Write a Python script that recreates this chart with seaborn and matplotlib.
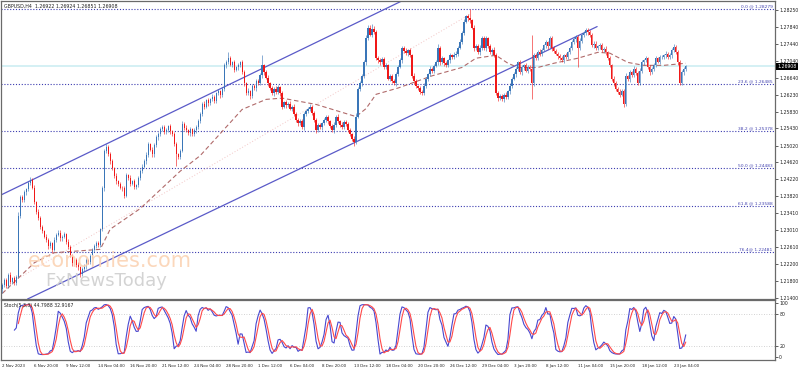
import numpy as np
import pandas as pd
import matplotlib
matplotlib.use("Agg")
import matplotlib.pyplot as plt
import matplotlib.transforms as mtransforms
import seaborn as sns

# ---------------- data ----------------
symbol_title = "GBPUSD,H4  1.26922 1.26924 1.26851 1.26908"
stoch_title = "Stoch(5,3,3) 44.7988 32.9167"

first_open = 1.2160
closes = [
    1.2170, 1.2182, 1.2168, 1.2195, 1.2178, 1.2186, 1.2174, 1.2190, 1.2335, 1.2380,
    1.2372, 1.2391, 1.2398, 1.2412, 1.2420, 1.2402, 1.2368, 1.2345, 1.2330, 1.2309,
    1.2298, 1.2285, 1.2278, 1.2262, 1.2270, 1.2253, 1.2278, 1.2290, 1.2295, 1.2281,
    1.2285, 1.2292, 1.2273, 1.2261, 1.2240, 1.2222, 1.2230, 1.2218, 1.2212, 1.2196,
    1.2208, 1.2215, 1.2229, 1.2224, 1.2240, 1.2254, 1.2262, 1.2271, 1.2266, 1.2303,
    1.2400, 1.2490, 1.2498, 1.2482, 1.2465, 1.2449, 1.2430, 1.2417, 1.2410, 1.2402,
    1.2400, 1.2383, 1.2432, 1.2425, 1.2411, 1.2417, 1.2404, 1.2407, 1.2425, 1.2441,
    1.2452, 1.2465, 1.2480, 1.2505, 1.2492, 1.2481, 1.2503, 1.2522, 1.2530, 1.2541,
    1.2546, 1.2535, 1.2539, 1.2548, 1.2536, 1.2529, 1.2505, 1.2481, 1.2476, 1.2490,
    1.2554, 1.2545, 1.2539, 1.2532, 1.2541, 1.2529, 1.2538, 1.2546, 1.2560, 1.2578,
    1.2602, 1.2595, 1.2610, 1.2603, 1.2612, 1.2618, 1.2609, 1.2627, 1.2631, 1.2622,
    1.2637, 1.2693, 1.2702, 1.2710, 1.2695, 1.2700, 1.2683, 1.2688, 1.2694, 1.2700,
    1.2676, 1.2650, 1.2627, 1.2632, 1.2620, 1.2644, 1.2638, 1.2655, 1.2651, 1.2670,
    1.2693, 1.2676, 1.2664, 1.2651, 1.2640, 1.2627, 1.2637, 1.2630, 1.2641, 1.2627,
    1.2595, 1.2605, 1.2598, 1.2602, 1.2590, 1.2595, 1.2578, 1.2563, 1.2555, 1.2560,
    1.2546, 1.2578, 1.2584, 1.2590, 1.2595, 1.2580, 1.2563, 1.2539, 1.2550, 1.2546,
    1.2555, 1.2562, 1.2571, 1.2560, 1.2548, 1.2539, 1.2552, 1.2571, 1.2560, 1.2552,
    1.2546, 1.2558, 1.2554, 1.2540, 1.2529, 1.2518, 1.2510, 1.2571, 1.2637, 1.2650,
    1.2668, 1.2700, 1.2758, 1.2783, 1.2766, 1.2780, 1.2773, 1.2710, 1.2705, 1.2700,
    1.2708, 1.2690, 1.2693, 1.2661, 1.2668, 1.2655, 1.2651, 1.2672, 1.2690, 1.2705,
    1.2734, 1.2728, 1.2722, 1.2730, 1.2717, 1.2668, 1.2655, 1.2644, 1.2638, 1.2630,
    1.2627, 1.2645, 1.2661, 1.2672, 1.2685, 1.2680, 1.2692, 1.2700, 1.2734, 1.2700,
    1.2710, 1.2698, 1.2693, 1.2705, 1.2717, 1.2712, 1.2718, 1.2721, 1.2735, 1.2749,
    1.2770, 1.2797, 1.2810, 1.2805, 1.2800, 1.2783, 1.2734, 1.2740, 1.2724, 1.2735,
    1.2758, 1.2734, 1.2758, 1.2740, 1.2724, 1.2730, 1.2717, 1.2627, 1.2615, 1.2620,
    1.2612, 1.2623, 1.2618, 1.2632, 1.2645, 1.2661, 1.2672, 1.2685, 1.2700, 1.2676,
    1.2688, 1.2693, 1.2680, 1.2690, 1.2685, 1.2651, 1.2717, 1.2710, 1.2725, 1.2721,
    1.2730, 1.2741, 1.2748, 1.2738, 1.2758, 1.2734, 1.2728, 1.2721, 1.2715, 1.2710,
    1.2705, 1.2717, 1.2712, 1.2725, 1.2734, 1.2749, 1.2755, 1.2761, 1.2734, 1.2752,
    1.2766, 1.2770, 1.2778, 1.2772, 1.2766, 1.2741, 1.2745, 1.2734, 1.2738, 1.2741,
    1.2729, 1.2733, 1.2724, 1.2710, 1.2693, 1.2661, 1.2650, 1.2637, 1.2630, 1.2623,
    1.2632, 1.2602, 1.2668, 1.2660, 1.2676, 1.2670, 1.2685, 1.2675, 1.2651, 1.2680,
    1.2700, 1.2705, 1.2710, 1.2690, 1.2676, 1.2685, 1.2693, 1.2710, 1.2702, 1.2712,
    1.2712, 1.2717, 1.2721, 1.2712, 1.2717, 1.2730, 1.2737, 1.2725, 1.2700, 1.2651,
    1.2676, 1.2685, 1.26908,
]

wick_up_pips = [
    6, 4, 5, 3, 6, 4, 5, 3, 8, 5,
    4, 6, 3, 5, 8, 4, 5, 3, 6, 4,
    5, 3, 6, 4, 5, 3, 7, 4, 5, 6,
    4, 5, 3, 6, 4, 5, 3, 4, 6, 3,
    5, 4, 6, 3, 5, 4, 6, 4, 5, 4,
    6, 5, 7, 6, 4, 5, 3, 6, 4, 5,
    4, 6, 5, 3, 6, 4, 5, 3, 4, 6,
    5, 4, 6, 5, 3, 6, 4, 5, 4, 6,
    5, 4, 6, 3, 5, 4, 6, 5, 3, 5,
    6, 4, 5, 3, 6, 4, 5, 4, 6, 5,
    4, 6, 3, 5, 4, 6, 5, 3, 6, 4,
    5, 6, 4, 15, 5, 4, 6, 3, 5, 4,
    6, 5, 4, 6, 3, 5, 4, 6, 5, 4,
    24, 4, 5, 6, 3, 5, 4, 6, 5, 4,
    5, 4, 6, 3, 5, 4, 6, 5, 4, 5,
    6, 4, 5, 3, 6, 4, 5, 4, 6, 5,
    4, 6, 3, 5, 4, 6, 5, 3, 6, 4,
    5, 4, 6, 3, 5, 4, 6, 8, 5, 6,
    4, 6, 8, 7, 5, 12, 6, 4, 5, 6,
    4, 5, 6, 3, 5, 4, 6, 5, 4, 6,
    5, 4, 6, 3, 5, 4, 6, 5, 3, 5,
    4, 6, 5, 3, 6, 4, 5, 6, 10, 4,
    5, 4, 6, 3, 5, 4, 6, 5, 4, 6,
    5, 6, 4, 5, 23, 4, 6, 5, 4, 6,
    5, 4, 6, 3, 5, 4, 6, 5, 4, 6,
    5, 4, 6, 3, 5, 4, 6, 5, 4, 6,
    5, 4, 6, 3, 5, 81, 6, 5, 4, 6,
    5, 4, 6, 3, 5, 4, 6, 5, 4, 6,
    5, 4, 6, 3, 5, 4, 6, 5, 4, 6,
    5, 4, 4, 3, 5, 4, 6, 5, 4, 6,
    5, 4, 6, 3, 5, 4, 6, 5, 4, 6,
    5, 4, 6, 3, 5, 4, 6, 5, 4, 6,
    5, 4, 6, 3, 5, 4, 6, 5, 4, 6,
    5, 4, 6, 3, 5, 4, 7, 5, 4, 6,
    5, 4, 3,
]

wick_dn_pips = [
    10, 5, 6, 4, 5, 6, 4, 5, 4, 6,
    5, 4, 6, 3, 5, 4, 6, 5, 4, 6,
    5, 4, 6, 5, 4, 6, 3, 5, 4, 6,
    5, 4, 6, 5, 4, 6, 5, 4, 6, 8,
    5, 4, 6, 5, 4, 6, 5, 4, 6, 5,
    4, 6, 5, 4, 6, 5, 4, 6, 5, 4,
    6, 5, 4, 6, 5, 4, 6, 5, 4, 6,
    5, 4, 6, 5, 4, 6, 5, 4, 6, 5,
    4, 6, 5, 4, 6, 5, 4, 27, 6, 5,
    4, 6, 5, 4, 6, 5, 4, 6, 5, 4,
    6, 5, 4, 6, 5, 4, 6, 5, 4, 6,
    5, 4, 6, 5, 4, 6, 5, 4, 6, 5,
    4, 6, 5, 4, 6, 5, 4, 6, 5, 4,
    6, 5, 4, 6, 5, 4, 6, 5, 4, 6,
    5, 4, 6, 5, 4, 6, 5, 4, 6, 5,
    4, 6, 5, 4, 6, 5, 4, 6, 5, 4,
    6, 5, 4, 6, 5, 4, 6, 5, 4, 6,
    5, 4, 6, 5, 4, 6, 10, 5, 4, 6,
    5, 4, 6, 5, 4, 6, 5, 4, 6, 5,
    4, 6, 5, 4, 6, 5, 4, 6, 5, 4,
    6, 5, 4, 6, 5, 4, 6, 5, 4, 6,
    5, 4, 6, 5, 4, 6, 5, 4, 6, 5,
    4, 6, 5, 4, 6, 5, 4, 6, 5, 4,
    6, 5, 4, 6, 5, 4, 6, 5, 4, 6,
    5, 4, 6, 5, 4, 6, 5, 4, 6, 5,
    4, 6, 5, 4, 6, 5, 4, 6, 5, 4,
    6, 5, 4, 6, 5, 39, 6, 5, 4, 6,
    5, 4, 6, 5, 4, 6, 5, 4, 6, 5,
    4, 6, 5, 4, 6, 5, 4, 6, 46, 4,
    6, 5, 4, 6, 5, 4, 6, 5, 4, 6,
    5, 4, 6, 5, 4, 6, 5, 4, 6, 5,
    4, 7, 5, 4, 6, 5, 4, 6, 5, 4,
    6, 5, 4, 6, 5, 4, 6, 5, 4, 6,
    5, 4, 6, 5, 4, 6, 5, 4, 6, 5,
    4, 6, 5,
]

x_tick_bars = [0, 16, 32, 48, 64, 80, 96, 112, 128, 144, 160,
               176, 192, 208, 224, 240, 256, 272, 288, 304, 320, 336]
x_tick_labels = ["2 Nov 2023", "6 Nov 20:00", "9 Nov 12:00", "14 Nov 04:00",
                 "16 Nov 20:00", "21 Nov 12:00", "24 Nov 04:00", "28 Nov 20:00",
                 "1 Dec 12:00", "6 Dec 04:00", "8 Dec 20:00", "13 Dec 12:00",
                 "18 Dec 04:00", "20 Dec 20:00", "26 Dec 12:00", "29 Dec 04:00",
                 "3 Jan 20:00", "8 Jan 12:00", "11 Jan 04:00", "15 Jan 20:00",
                 "18 Jan 12:00", "23 Jan 04:00"]
price_ticks = [1.28250, 1.27840, 1.27440, 1.27040, 1.26640, 1.26230, 1.25830,
               1.25430, 1.25020, 1.24620, 1.24220, 1.23820, 1.23410, 1.23010,
               1.22610, 1.22200, 1.21800, 1.21400]
stoch_ticks = [100, 80, 20, 0]

fib_levels = [1.28279, 1.26485, 1.25378, 1.24483, 1.23588, 1.22481]
fib_labels = ["0.0 @ 1.28279", "23.6 @ 1.26485", "38.2 @ 1.25378",
              "50.0 @ 1.24483", "61.8 @ 1.23588", "76.4@ 1.22481"]
last_price = 1.26908

ma_bars = [0, 16, 26, 49, 54, 69, 89, 99, 112, 120, 132, 140, 157, 177, 182,
           187, 198, 215, 230, 237, 247, 253, 258, 268, 276, 288, 298, 304,
           313, 321, 331, 342]
ma_values = [1.2150, 1.2223, 1.2247, 1.2255, 1.2303, 1.2352, 1.2441, 1.2478,
             1.2546, 1.2588, 1.2612, 1.2615, 1.2600, 1.2571, 1.2590, 1.2624,
             1.2639, 1.2668, 1.2688, 1.2710, 1.2717, 1.2698, 1.2688, 1.2688,
             1.2698, 1.2710, 1.2724, 1.2722, 1.2700, 1.2693, 1.2693, 1.2698]

channel_upper_bars = [-0.85, 205.15]
channel_upper_prices = [1.2384, 1.28584]
channel_lower_bars = [12.65, 297.65]
channel_lower_prices = [1.21368, 1.27853]
diag_bars = [9.15, 234.15]
diag_prices = [1.2189, 1.2815]

# ---------------- derived OHLC ----------------
n = len(closes)
idx = np.arange(n)
c = np.array(closes)
o = np.concatenate([[first_open], c[:-1]])
h = np.maximum(o, c) + np.array(wick_up_pips) * 0.0001
l = np.minimum(o, c) - np.array(wick_dn_pips) * 0.0001
df = pd.DataFrame({"bar": idx, "open": o, "high": h, "low": l, "close": c})

# Stochastic (5,3,3) computed from the bars
ll = df["low"].rolling(5).min()
hh = df["high"].rolling(5).max()
num = (df["close"] - ll).rolling(3).sum()
den = (hh - ll).rolling(3).sum()
df["k"] = 100 * num / den
df["d"] = df["k"].rolling(3).mean()

# ---------------- figure ----------------
sns.set_theme(style="white")
plt.rcParams["font.family"] = ["DejaVu Sans"]

W, H = 798, 371
fig = plt.figure(figsize=(W / 100, H / 100), dpi=100)
plot_right = 775 / W
ax = fig.add_axes([0.6 / W, 1 - 299 / H, plot_right - 0.6 / W, 298 / H])
ax2 = fig.add_axes([0.6 / W, 1 - 360 / H, plot_right - 0.6 / W, 60 / H], sharex=ax)

xmin, xmax = -0.85, 386.65
ax.set_xlim(xmin, xmax)
ax.set_ylim(1.21368, 1.28462)

up_col = "#3a76b8"
dn_col = "#f01818"
cols = np.where(c >= o, up_col, dn_col)

# current price line
ax.axhline(last_price, color="#cdeef2", lw=1.2, zorder=1)

# fib levels
trans = mtransforms.blended_transform_factory(ax.transAxes, ax.transData)
for lev, lab in zip(fib_levels, fib_labels):
    ax.axhline(lev, color="#3c3cb0", lw=0.8, ls=(0, (1, 1.6)), zorder=1)
    ax.text(0.997, lev + 0.00012, lab, transform=trans, ha="right", va="bottom",
            fontsize=3.2, color="#4444b0")

# faint diagonal
ax.plot(diag_bars, diag_prices, color="#f2c6c6", lw=0.7, ls=(0, (1, 2)), zorder=1)

# channel lines
ax.plot(channel_upper_bars, channel_upper_prices, color="#5a5ac8", lw=0.9, zorder=2)
ax.plot(channel_lower_bars, channel_lower_prices, color="#5a5ac8", lw=0.9, zorder=2)

# moving average
sns.lineplot(x=ma_bars, y=ma_values, ax=ax, color="#b06a6a", lw=0.8,
             linestyle=(0, (4, 2.5)), zorder=3)

# candles
ax.vlines(idx, l, h, colors=cols, lw=0.6, alpha=0.7, zorder=4)
body = np.maximum(np.abs(c - o), 0.00006)
ax.bar(idx, body, bottom=np.minimum(o, c), width=0.6, color=cols,
       linewidth=0, zorder=5)

# watermark
ax.text(27 / 775, (299 - 261) / 298, "economies.com", transform=ax.transAxes,
        fontsize=15, color="#fbd3b4", ha="left", va="center", zorder=6, alpha=0.9)
ax.text(45 / 775, (299 - 281) / 298, "FxNewsToday", transform=ax.transAxes,
        fontsize=13, color="#cfcfcf", ha="left", va="center", zorder=6, alpha=0.9)

# title
ax.text(3 / 775, 1 - 5 / 298, symbol_title, transform=ax.transAxes,
        fontsize=3.4, color="#202020", ha="left", va="center")

# axes styling (price)
ax.yaxis.tick_right()
ax.set_yticks(price_ticks)
ax.set_yticklabels([f"{t:.5f}" for t in price_ticks])
ax.tick_params(axis="y", which="both", length=2, width=0.5, pad=1,
               labelsize=3.3, colors="#202020", direction="out")
ax.tick_params(axis="x", which="both", length=0, labelbottom=False)
for s in ax.spines.values():
    s.set_color("#6a6a6a")
    s.set_linewidth(0.9)
ax.set_xlabel("")
ax.set_ylabel("")

# price box
ax.text(1.003, last_price, f"{last_price:.5f}", transform=trans, ha="left",
        va="center", fontsize=3.3, color="white",
        bbox=dict(boxstyle="square,pad=0.25", fc="black", ec="black", lw=0),
        clip_on=False, zorder=10)

# stochastic panel
ax2.set_ylim(-5.6, 105.6)
for lev in (80, 20):
    ax2.axhline(lev, color="#c4c4c4", lw=0.6, ls=(0, (1, 2)), zorder=1)
stoch_long = pd.concat([
    pd.DataFrame({"bar": df["bar"], "val": df["k"], "line": "main"}),
    pd.DataFrame({"bar": df["bar"], "val": df["d"], "line": "signal"}),
]).dropna()
sns.lineplot(data=stoch_long, x="bar", y="val", hue="line",
             palette={"main": "#4848d0", "signal": "#ff4a4a"},
             lw=0.8, ax=ax2, legend=False, zorder=3)
ax2.text(3 / 775, 0.9, stoch_title, transform=ax2.transAxes, fontsize=3.3,
         color="#202020", ha="left", va="center")
ax2.yaxis.tick_right()
ax2.set_yticks(stoch_ticks)
ax2.set_yticklabels([str(t) for t in stoch_ticks])
ax2.tick_params(axis="y", length=2, width=0.5, pad=1, labelsize=3.3,
                colors="#202020")
ax2.set_xticks(x_tick_bars)
ax2.set_xticklabels(x_tick_labels)
ax2.tick_params(axis="x", length=2, width=0.5, pad=1, labelsize=2.9,
                colors="#202020", direction="out")
for t in ax2.get_xticklabels():
    t.set_horizontalalignment("left")
for s in ax2.spines.values():
    s.set_color("#6a6a6a")
    s.set_linewidth(0.9)
ax2.set_xlabel("")
ax2.set_ylabel("")
ax2.set_xlim(xmin, xmax)

fig.savefig("out.png", dpi=100)
